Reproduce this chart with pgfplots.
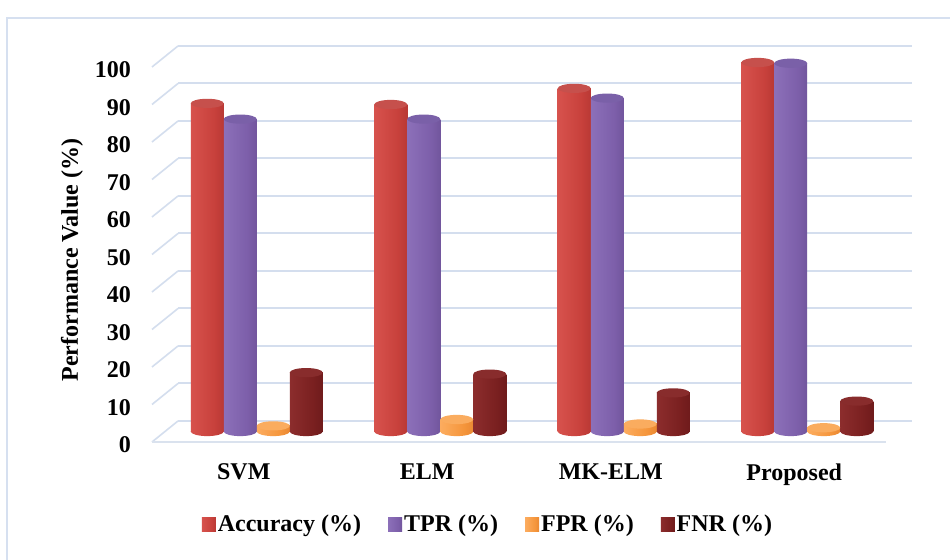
\documentclass[border=0pt]{standalone}
\usepackage{fontspec}
\setmainfont{Liberation Serif}
\usepackage{pgfplots}
\pgfplotsset{compat=1.18}
\usetikzlibrary{shapes.geometric}

\definecolor{gridcol}{RGB}{212,222,238}
\definecolor{floorcol}{RGB}{218,226,238}
\definecolor{framecol}{RGB}{214,224,240}

% cylinder body shadings: dark edge, highlight, body, dark edge
\pgfdeclarehorizontalshading{accshade}{100bp}{rgb(0bp)=(0.725,0.204,0.188); rgb(25bp)=(0.843,0.322,0.302); rgb(60bp)=(0.784,0.255,0.235); rgb(100bp)=(0.627,0.165,0.157)}
\pgfdeclarehorizontalshading{tprshade}{100bp}{rgb(0bp)=(0.424,0.314,0.588); rgb(25bp)=(0.549,0.439,0.725); rgb(60bp)=(0.490,0.373,0.667); rgb(100bp)=(0.373,0.275,0.529)}
\pgfdeclarehorizontalshading{fprshade}{100bp}{rgb(0bp)=(0.922,0.529,0.176); rgb(25bp)=(0.988,0.675,0.373); rgb(60bp)=(0.961,0.588,0.235); rgb(100bp)=(0.843,0.451,0.137)}
\pgfdeclarehorizontalshading{fnrshade}{100bp}{rgb(0bp)=(0.412,0.094,0.094); rgb(25bp)=(0.549,0.176,0.176); rgb(60bp)=(0.478,0.125,0.125); rgb(100bp)=(0.361,0.071,0.078)}

% cylinder caps
\definecolor{accT}{RGB}{198,80,76}
\definecolor{tprT}{RGB}{122,96,168}
\definecolor{fprT}{RGB}{250,172,95}
\definecolor{fnrT}{RGB}{136,44,44}

\newcommand{\chartfont}{\fontsize{12}{14}\selectfont\bfseries}

\pgfplotsset{
  sqlegend/.style={legend image code/.code={\fill[##1] (0pt,-3.5pt) rectangle (7pt,3.5pt);}},
  cyl/.style 2 args={
    draw=none, shading=#1,
    nodes near coords={},
    every node near coord/.append style={ellipse, fill=#2, draw=none,
      minimum width=16.5pt, minimum height=4.6pt, inner sep=0pt, anchor=center},
    sqlegend
  },
  cylbase/.style={
    draw=none, fill=none, forget plot,
    nodes near coords={},
    every node near coord/.append style={ellipse, shading=#1, draw=none,
      minimum width=16.5pt, minimum height=4.6pt, inner sep=0pt, anchor=center}
  },
  sA/.style={bar shift=-24.75pt},
  sB/.style={bar shift=-8.25pt},
  sC/.style={bar shift=8.25pt},
  sD/.style={bar shift=24.75pt},
}

\begin{document}
\begin{tikzpicture}[x=1pt,y=1pt]
\path[use as bounding box] (0,0) rectangle (475,280);
\fill[white] (0,0) rectangle (475,280);
\draw[framecol, line width=1pt] (3.5,-1) -- (3.5,271) -- (476,271);

% back wall with the horizontal grid
\begin{axis}[
  at={(89pt,69.5pt)}, anchor=south west,
  scale only axis, width=367pt, height=187.5pt,
  xmin=-0.5, xmax=3.5, ymin=0, ymax=100,
  axis line style={draw=none}, tick style={draw=none},
  xtick=\empty, ytick={0,10,...,100}, yticklabels={},
  ymajorgrids, major grid style={gridcol, line width=1pt},
]
\addplot[draw=none] coordinates {(0,0)};
\end{axis}

% cylinders, tick labels and legend
\begin{axis}[
  at={(82.5pt,64.25pt)}, anchor=south west,
  scale only axis, width=367pt, height=187.5pt,
  xmin=-0.5, xmax=3.5, ymin=0, ymax=100,
  clip=false,
  axis line style={draw=none}, tick style={draw=none},
  ybar, bar width=16.5pt,
  xtick={0,1,2,3},
  xticklabels={SVM, ELM, MK-ELM, Proposed},
  ytick={0,10,...,100},
  /pgf/number format/assume math mode=true,
  yticklabel style={font=\chartfont, xshift=-13.5pt, yshift=-6.75pt},
  xticklabel style={font=\chartfont, xshift=-6.5pt, yshift=-8.5pt},
  ylabel={Performance Value (\%)},
  every axis y label/.style={at={(axis description cs:-0.1267,0.4573)},
    rotate=90, anchor=center, font=\chartfont},
  legend style={at={(axis description cs:0.44,-0.2493)}, anchor=center,
    legend columns=4, draw=none, fill=none, font=\chartfont,
    inner xsep=0pt, nodes={inner sep=1pt},
    /tikz/every even column/.append style={column sep=12.5pt}},
]
% depth lines of the floor and side wall
\pgfplotsinvokeforeach{0,10,...,100}{
  \draw[gridcol, line width=0.8pt]
    ([shift={(-6.5pt,-5.25pt)}]axis cs:-0.5,#1) --
    ([shift={(6.5pt,5.25pt)}]axis cs:-0.5,#1);
}
\draw[floorcol, line width=1pt]
  ([shift={(-6.5pt,-5.25pt)}]axis cs:-0.5,0) --
  ([shift={(-6.5pt,-5.25pt)}]axis cs:3.5,0);

% rounded bottoms of the cylinders
\addplot[cylbase=accshade, sA] coordinates {(0,0) (1,0) (2,0) (3,0)};
\addplot[cylbase=tprshade, sB] coordinates {(0,0) (1,0) (2,0) (3,0)};
\addplot[cylbase=fprshade, sC] coordinates {(0,0) (1,0) (2,0) (3,0)};
\addplot[cylbase=fnrshade, sD] coordinates {(0,0) (1,0) (2,0) (3,0)};

% Accuracy (%)
\addplot[cyl={accshade}{accT}, sA] coordinates {(0,87.5)};
\addplot[cyl={accshade}{accT}, sA, forget plot] coordinates {(1,87.2)};
\addplot[cyl={accshade}{accT}, sA, forget plot] coordinates {(2,91.5)};
\addplot[cyl={accshade}{accT}, sA, forget plot] coordinates {(3,98.4)};
% TPR (%)
\addplot[cyl={tprshade}{tprT}, sB] coordinates {(0,83.3)};
\addplot[cyl={tprshade}{tprT}, sB, forget plot] coordinates {(1,83.3)};
\addplot[cyl={tprshade}{tprT}, sB, forget plot] coordinates {(2,88.9)};
\addplot[cyl={tprshade}{tprT}, sB, forget plot] coordinates {(3,98.2)};
% FPR (%)
\addplot[cyl={fprshade}{fprT}, sC] coordinates {(0,1.5)};
\addplot[cyl={fprshade}{fprT}, sC, forget plot] coordinates {(1,3.2)};
\addplot[cyl={fprshade}{fprT}, sC, forget plot] coordinates {(2,2.0)};
\addplot[cyl={fprshade}{fprT}, sC, forget plot] coordinates {(3,1.0)};
% FNR (%)
\addplot[cyl={fnrshade}{fnrT}, sD] coordinates {(0,15.7)};
\addplot[cyl={fnrshade}{fnrT}, sD, forget plot] coordinates {(1,15.3)};
\addplot[cyl={fnrshade}{fnrT}, sD, forget plot] coordinates {(2,10.3)};
\addplot[cyl={fnrshade}{fnrT}, sD, forget plot] coordinates {(3,8.1)};
\legend{Accuracy (\%), TPR (\%), FPR (\%), FNR (\%)}
\end{axis}
\end{tikzpicture}
\end{document}
